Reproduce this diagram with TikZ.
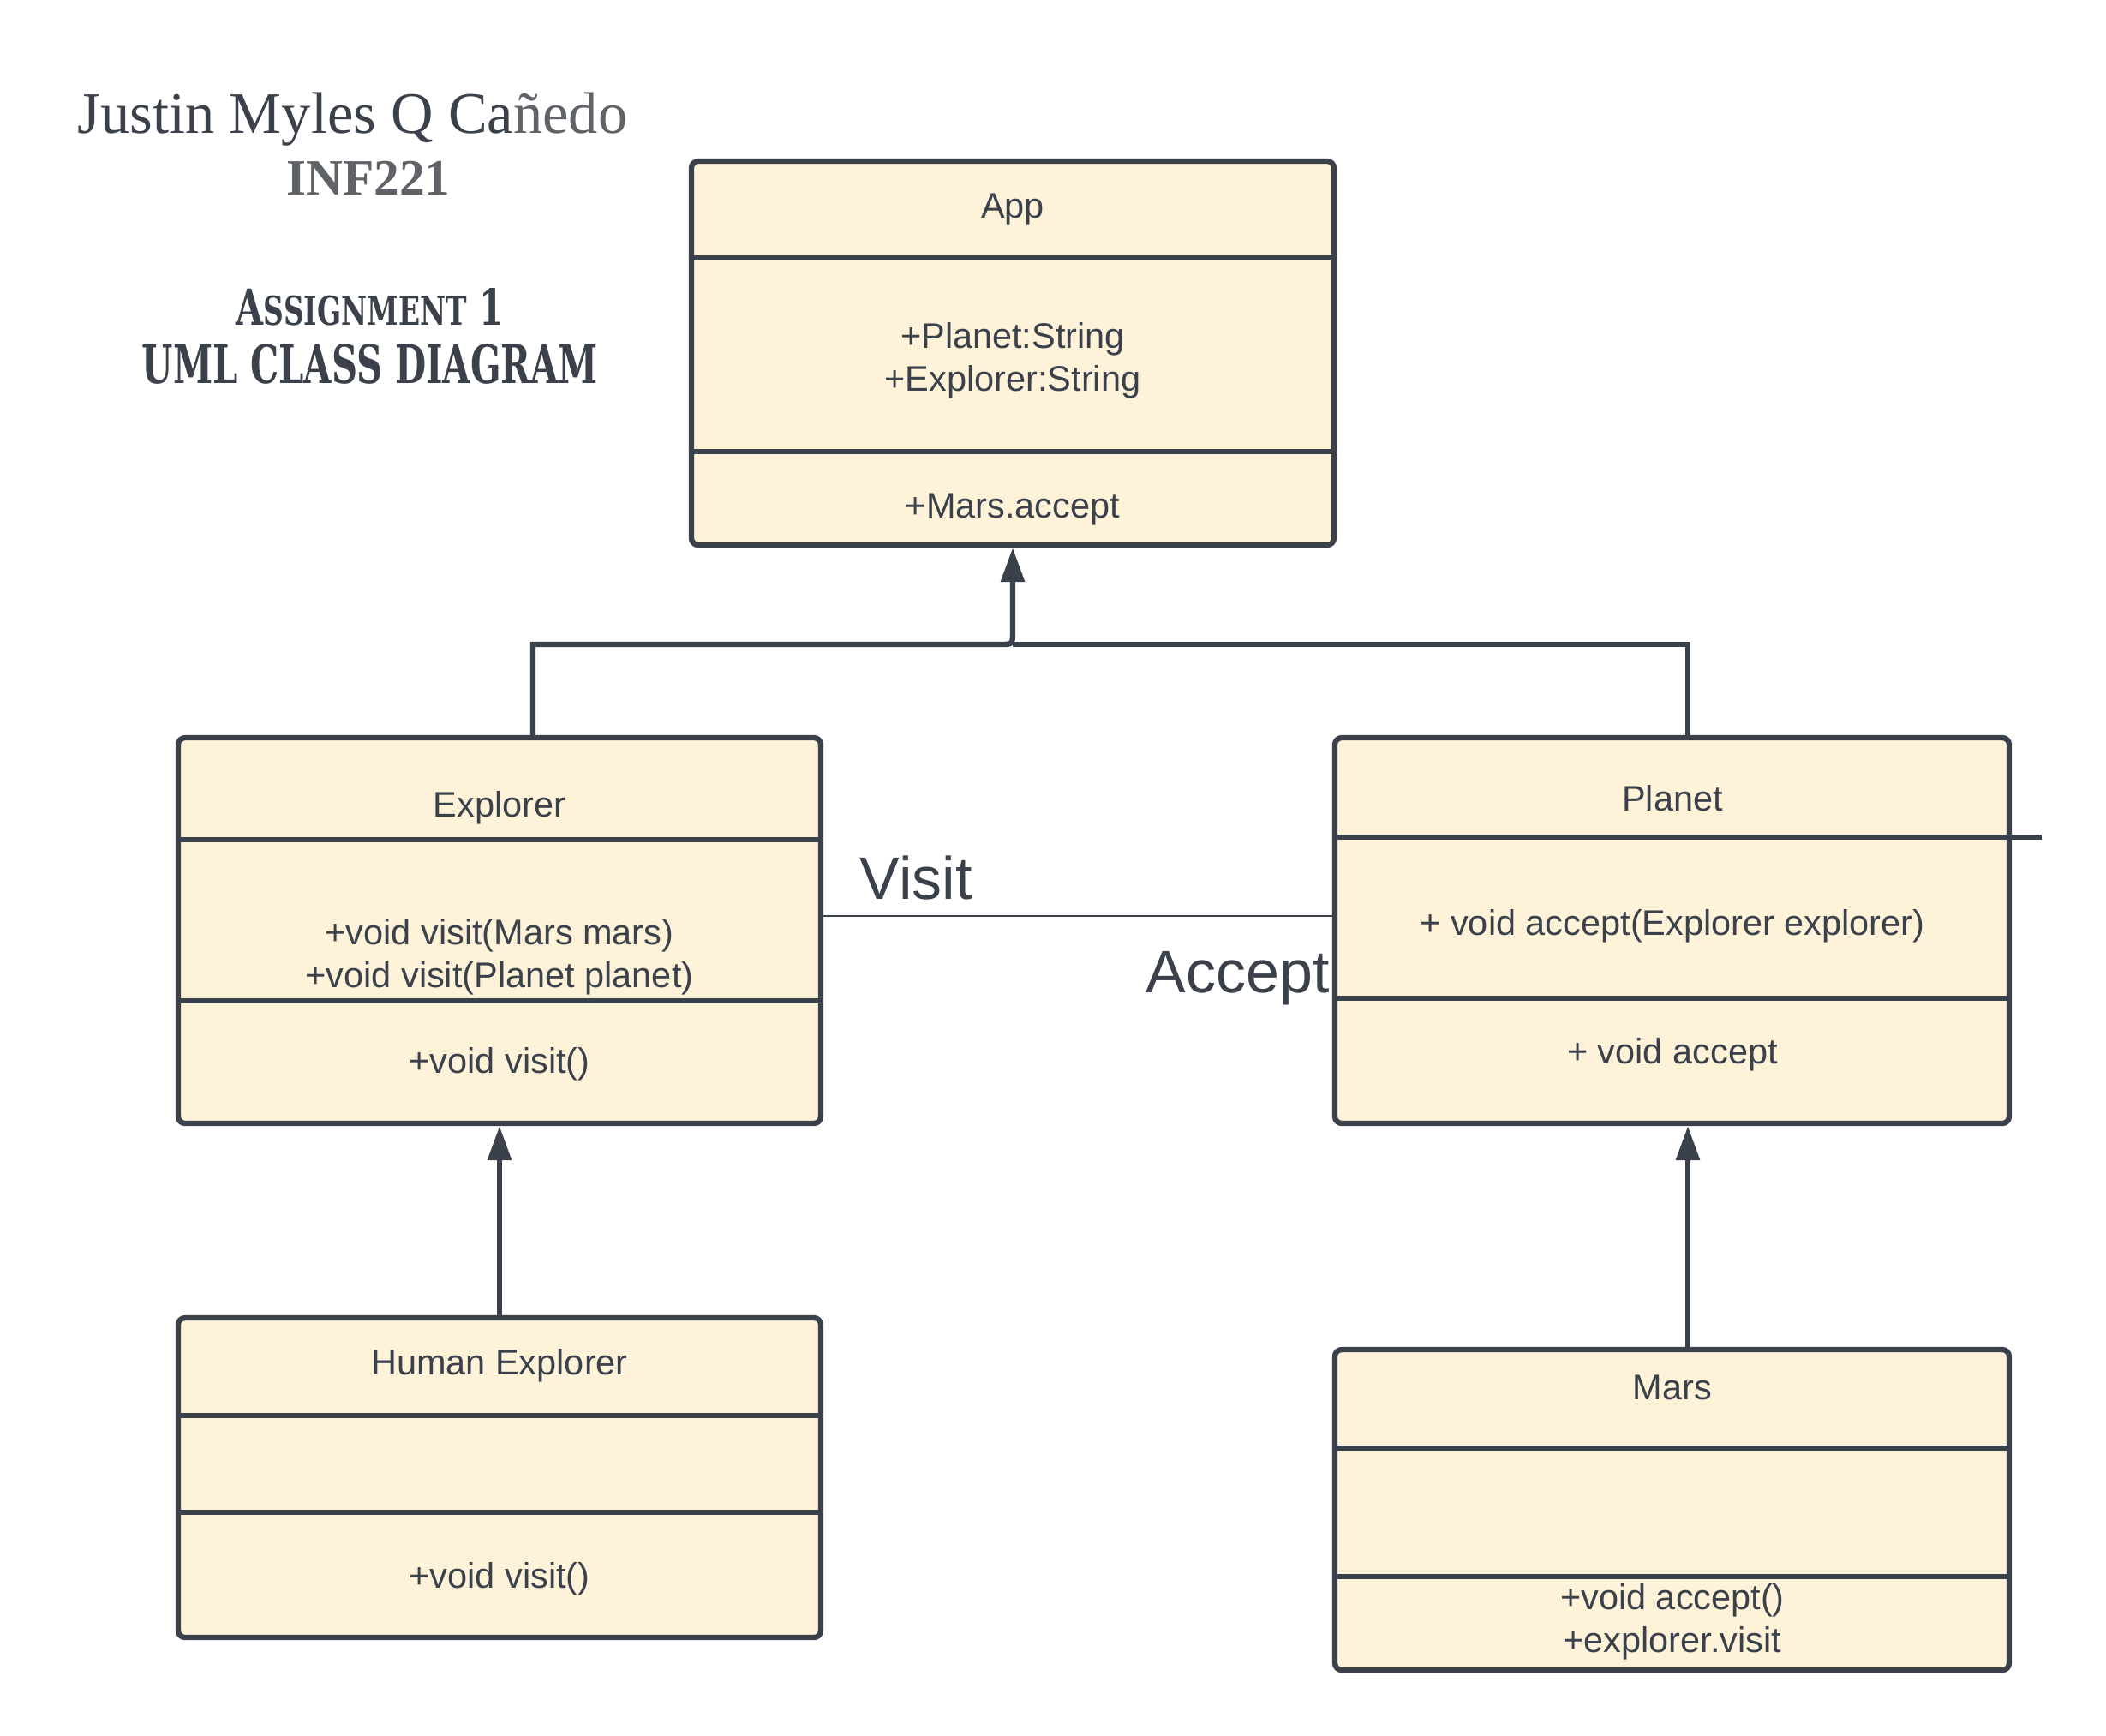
\documentclass[tikz,border=0pt]{standalone}
\usepackage{fontspec}
\setmainfont{Liberation Sans}
\newfontfamily\namefont{Liberation Serif}
\newfontfamily\slabfont{DejaVu Serif}
\usetikzlibrary{arrows.meta}
\definecolor{ink}{HTML}{3A414A}
\definecolor{greyink}{HTML}{5F6368}
\definecolor{paper}{HTML}{FEF2D9}

\begin{document}
\begin{tikzpicture}[line width=1.8pt,>={Triangle[length=0.40cm,width=0.27cm]},
  classbox/.style={draw=ink,fill=paper,rounded corners=0.08cm,inner sep=0pt},
  member/.style={font=\fontsize{11.8}{14.2}\selectfont,align=center,text=ink},
  link/.style={draw=ink,line width=1.8pt}]
\useasboundingbox (0,0) rectangle (24.58,-20.25);
% ---- heading ----
\node[font=\namefont\fontsize{19.5}{23}\selectfont,text=ink,anchor=base west]
  (author) at (0.76,-1.55) {Justin Myles Q Ca\textcolor{greyink}{ñedo}};
\node[font=\namefont\bfseries\fontsize{16.9}{20}\selectfont,text=greyink,anchor=base]
  (course) at (4.30,-2.27) {INF221};
\node[text=ink,anchor=base] (task) at (4.32,-3.79)
  {\resizebox{3.12cm}{0.43cm}{\slabfont\bfseries A{\fontsize{8}{8}\selectfont SSIGNMENT} 1}};
\node[text=ink,anchor=base] (kind) at (4.32,-4.47)
  {\resizebox{5.32cm}{0.46cm}{\slabfont\bfseries UML CLASS DIAGRAM}};
% ---- class boxes ----
\node[classbox,minimum width=7.50cm,minimum height=4.48cm] (app) at (11.82,-4.12) {};
\node[classbox,minimum width=7.50cm,minimum height=4.50cm] (explorer) at (5.83,-10.86) {};
\node[classbox,minimum width=7.87cm,minimum height=4.50cm] (planet) at (19.515,-10.86) {};
\node[classbox,minimum width=7.50cm,minimum height=3.73cm] (human) at (5.83,-17.245) {};
\node[classbox,minimum width=7.87cm,minimum height=3.74cm] (mars) at (19.515,-17.62) {};
% compartment lines
\foreach \b/\y in {app/3.01,app/5.27,explorer/9.80,explorer/11.68,planet/11.65,
                   human/16.52,human/17.65,mars/16.90,mars/18.40}
  \draw[ink] (\b.west |- 0,-\y) -- (\b.east |- 0,-\y);
\draw[ink] (planet.west |- 0,-9.77) -- (23.83,-9.77);
% ---- members ----
\node[member] (app-name) at (11.82,-2.45) {App};
\node[member] (app-attr) at (11.82,-4.21) {+Planet:String\\+Explorer:String};
\node[member] (app-op) at (11.82,-5.95) {+Mars.accept};
\node[member] (explorer-name) at (5.83,-9.43) {Explorer};
\node[member] (explorer-attr) at (5.83,-11.17) {+void visit(Mars mars)\\+void visit(Planet planet)};
\node[member] (explorer-op) at (5.83,-12.42) {+void visit()};
\node[member] (planet-name) at (19.52,-9.32) {Planet};
\node[member] (planet-attr) at (19.52,-10.81) {+ void accept(Explorer explorer)};
\node[member] (planet-op) at (19.52,-12.31) {+ void accept};
\node[member] (human-name) at (5.83,-15.94) {Human Explorer};
\node[member] (human-op) at (5.83,-18.43) {+void visit()};
\node[member] (mars-name) at (19.52,-16.19) {Mars};
\node[member] (mars-op) at (19.52,-18.93) {+void accept()\\+explorer.visit};
% ---- connectors ----
\coordinate (hub) at (11.82,-7.52);
\draw[link,->] ([xshift=0.39cm]explorer.north) |- ([xshift=-0.15cm]hub)
  .. controls (hub) .. ([yshift=0.15cm]hub) -- (app.south);
\draw[link] ([xshift=0.185cm]planet.north) |- (hub);
\draw[link,->] (human.north) -- (explorer.south);
\draw[link,->] ([xshift=0.185cm]mars.north) -- ([xshift=0.185cm]planet.south);
\draw[ink,line width=0.5pt] (explorer.east |- 0,-10.69) -- (planet.west |- 0,-10.69);
\node[font=\fontsize{19.9}{24}\selectfont,text=ink,anchor=base west] (visit) at (9.89,-10.49) {Visit};
\node[font=\fontsize{19.9}{24}\selectfont,text=ink,anchor=base west] (accept) at (13.23,-11.58) {Accept};
\end{tikzpicture}
\end{document}
